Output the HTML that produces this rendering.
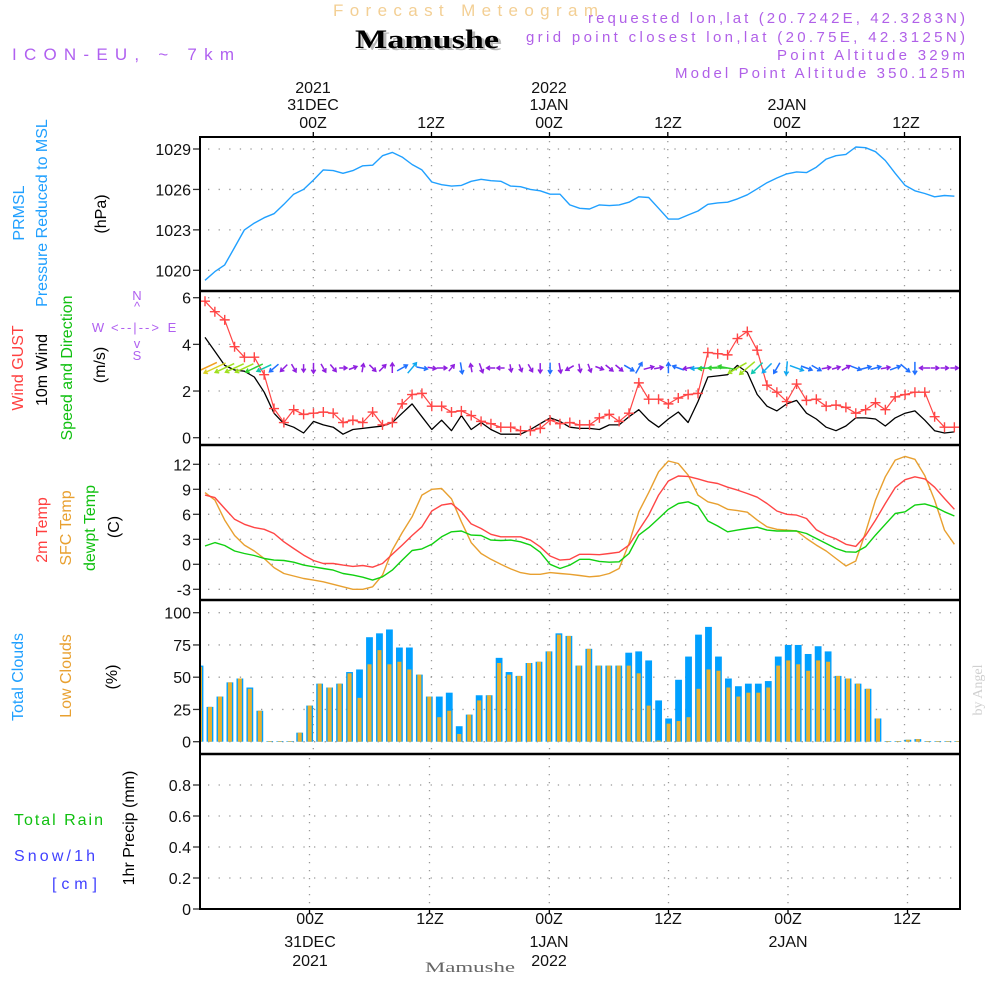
<!DOCTYPE html>
<html><head><meta charset="utf-8"><style>
html,body{margin:0;padding:0;background:#fff;}
svg{display:block;font-family:"Liberation Sans",sans-serif;}
</style></head><body>
<svg id="c" width="1000" height="1000" viewBox="0 0 1000 1000" xmlns="http://www.w3.org/2000/svg">
<rect width="1000" height="1000" fill="#fff"/>
<!-- header -->
<text x="333" y="16" font-size="17" fill="#f3cf94" textLength="265" lengthAdjust="spacing">Forecast Meteogram</text>
<text x="358" y="50" font-size="26" font-weight="bold" font-family="Liberation Serif,serif" fill="#bbb" textLength="144" lengthAdjust="spacingAndGlyphs">Mamushe</text>
<text x="355" y="48" font-size="26" font-weight="bold" font-family="Liberation Serif,serif" fill="#000" textLength="144" lengthAdjust="spacingAndGlyphs">Mamushe</text>
<text x="12" y="60" font-size="17" fill="#b060f0" textLength="222" lengthAdjust="spacing">ICON-EU, ~ 7km</text>
<g font-size="15" fill="#b060e8" text-anchor="end">
<text x="965" y="23" textLength="377" lengthAdjust="spacing">requested lon,lat (20.7242E, 42.3283N)</text>
<text x="965" y="42" textLength="439" lengthAdjust="spacing">grid point closest lon,lat (20.75E, 42.3125N)</text>
<text x="965" y="60" textLength="188" lengthAdjust="spacing">Point Altitude 329m</text>
<text x="965" y="78" textLength="290" lengthAdjust="spacing">Model Point Altitude 350.125m</text>
</g>
<g id="topaxis" font-size="16" fill="#111" text-anchor="middle">
<text x="313" y="93">2021</text><text x="313" y="110">31DEC</text><text x="313" y="128">00Z</text>
<text x="431" y="128">12Z</text>
<text x="549" y="93">2022</text><text x="549" y="110">1JAN</text><text x="549" y="128">00Z</text>
<text x="668" y="128">12Z</text>
<text x="787" y="110">2JAN</text><text x="787" y="128">00Z</text>
<text x="906" y="128">12Z</text>
</g>
<g font-size="16" fill="#111" text-anchor="middle">
<text x="310" y="924">00Z</text><text x="310" y="947">31DEC</text><text x="310" y="966">2021</text>
<text x="430" y="924">12Z</text>
<text x="549" y="924">00Z</text><text x="549" y="947">1JAN</text><text x="549" y="966">2022</text>
<text x="668" y="924">12Z</text>
<text x="788" y="924">00Z</text><text x="788" y="947">2JAN</text>
<text x="907" y="924">12Z</text>
</g>
<text x="425" y="972" font-size="15" font-family="Liberation Serif,serif" fill="#666" textLength="90" lengthAdjust="spacingAndGlyphs">Mamushe</text>
<!-- left labels -->
<g font-size="16" text-anchor="middle">
<text transform="translate(24,213) rotate(-90)" fill="#20a0ff">PRMSL</text>
<text transform="translate(47,213) rotate(-90)" fill="#20a0ff">Pressure  Reduced to MSL</text>
<text transform="translate(106,214) rotate(-90)" fill="#000">(hPa)</text>
<text transform="translate(23,368) rotate(-90)" fill="#ff4040">Wind <tspan>GUST</tspan></text>
<text transform="translate(47,370) rotate(-90)" fill="#000">10m Wind</text>
<text transform="translate(72,368) rotate(-90)" fill="#10c010">Speed and Direction</text>
<text transform="translate(105,365) rotate(-90)" fill="#000">(m/s)</text>
<text transform="translate(47,530) rotate(-90)" fill="#ff4040">2m Temp</text>
<text transform="translate(71,528) rotate(-90)" fill="#e8a030">SFC Temp</text>
<text transform="translate(95,528) rotate(-90)" fill="#10c010">dewpt Temp</text>
<text transform="translate(119,527) rotate(-90)" fill="#000">(C)</text>
<text transform="translate(23,677) rotate(-90)" fill="#20a0ff">Total Clouds</text>
<text transform="translate(71,676) rotate(-90)" fill="#e8a030">Low Clouds</text>
<text transform="translate(117,677) rotate(-90)" fill="#000">(%)</text>
<text transform="translate(134,828) rotate(-90)" fill="#000">1hr Precip (mm)</text>
</g>
<g font-size="16">
<text x="14" y="825" fill="#10c010" textLength="89" lengthAdjust="spacing">Total  Rain</text>
<text x="14" y="861" fill="#4040ff" textLength="81" lengthAdjust="spacing">Snow/1h</text>
<text x="52" y="889" fill="#4040ff" textLength="45" lengthAdjust="spacing">[cm]</text>
</g>
<g font-size="13" fill="#b060f0" text-anchor="middle">
<text x="137" y="300">N</text><text x="137" y="311">^</text>
<text x="98" y="332">W</text><text x="172" y="332">E</text>
<text x="135" y="332" textLength="48" lengthAdjust="spacing">&lt;--|--&gt;</text>
<text x="137" y="348">v</text><text x="137" y="360">S</text>
</g>
<text transform="translate(982,690) rotate(-90)" font-size="14" font-family="Liberation Serif,serif" fill="#d0d0d0" text-anchor="middle">by Angel</text>
<g id="plot"></g>
</svg>
<script>
// ---- data (hourly from 13Z 30 Dec) ----
const pressure=[1019.26,1019.9,1020.4,1021.7,1023.0,1023.5,1023.9,1024.2,1024.9,1025.65,1026.0,1026.7,1027.45,1027.4,1027.2,1027.4,1027.75,1027.8,1028.5,1028.75,1028.4,1027.85,1027.45,1026.55,1026.35,1026.25,1026.3,1026.6,1026.75,1026.65,1026.6,1026.25,1026.2,1026.0,1025.9,1025.65,1025.65,1024.85,1024.6,1024.55,1024.85,1024.8,1024.85,1025.05,1025.45,1025.4,1024.6,1023.8,1023.8,1024.1,1024.4,1024.9,1025.0,1025.05,1025.3,1025.6,1026.05,1026.5,1026.85,1027.15,1027.3,1027.25,1027.65,1028.25,1028.5,1028.6,1029.15,1029.1,1028.8,1028.15,1027.2,1026.3,1025.9,1025.7,1025.45,1025.55,1025.5];
const wind10=[4.3,3.7,3.1,2.9,2.85,2.6,1.95,1.05,0.6,0.45,0.2,0.7,0.55,0.45,0.15,0.35,0.4,0.45,0.5,0.65,1.05,1.45,0.9,0.35,0.75,0.3,0.95,0.35,0.65,0.35,0.15,0.15,0.15,0.35,0.6,0.85,0.7,0.45,0.4,0.4,0.35,0.55,0.55,0.9,1.2,0.75,0.45,0.8,1.1,0.65,1.55,2.6,2.65,2.7,3.1,2.8,1.85,1.35,1.15,1.45,1.6,1.05,0.8,0.45,0.3,0.5,0.85,0.85,0.8,0.5,0.85,1.05,1.15,0.75,0.3,0.2,0.25];
const gust=[5.85,5.4,5.05,3.9,3.45,3.45,2.7,1.25,0.65,1.2,1.0,1.05,1.1,1.05,0.65,0.75,0.65,1.1,0.55,0.65,1.45,1.85,1.9,1.35,1.35,1.1,1.15,0.95,0.7,0.6,0.45,0.45,0.3,0.3,0.4,0.75,0.6,0.65,0.55,0.55,0.85,1.0,0.7,1.05,2.35,1.65,1.65,1.45,1.7,1.85,1.9,3.65,3.6,3.55,4.25,4.55,3.75,2.25,1.95,1.55,2.3,1.6,1.65,1.35,1.4,1.3,1.05,1.2,1.5,1.2,1.75,1.85,1.95,1.95,0.9,0.45,0.45];
const windDir=[155,155,155,155,155,155,155,140,135,60,90,90,60,50,0,-20,-80,45,-45,-90,-30,-50,10,10,0,-50,80,-100,70,180,180,80,70,60,90,90,80,150,80,70,20,40,40,30,-60,-15,-10,-90,200,170,175,175,180,190,150,140,135,135,120,95,20,20,30,-10,-15,-30,20,-15,-15,-10,-20,40,90,180,0,0,0];
const temp2m=[8.3,8.0,6.7,5.4,4.8,4.4,4.2,3.7,2.7,1.9,1.1,0.45,0.1,0.1,-0.1,-0.25,-0.15,-0.35,0.1,1.2,2.3,3.45,4.5,6.4,7.1,7.3,6.3,4.85,4.3,3.6,3.3,3.3,3.3,2.9,2.1,1.0,0.5,0.6,1.2,1.2,1.15,1.3,1.45,2.3,4.1,5.9,8.3,10.0,10.6,10.55,10.25,9.9,9.7,9.25,8.9,8.5,8.05,7.3,6.4,6.0,5.9,5.5,4.15,3.5,3.05,2.4,2.15,3.45,5.3,7.3,9.2,10.15,10.5,10.25,9.25,7.9,6.6];
const tempSfc=[8.6,7.7,5.3,3.45,2.3,1.6,0.7,-0.4,-1.1,-1.4,-1.7,-1.9,-2.1,-2.4,-2.7,-3.0,-3.0,-2.7,-1.3,1.7,3.8,5.7,8.3,9.0,9.1,7.85,5.1,2.6,1.3,0.6,0.0,-0.55,-1.0,-1.2,-1.2,-1.0,-1.1,-1.2,-1.35,-1.5,-1.4,-1.1,-0.5,2.5,6.3,8.6,11.1,12.4,12.1,10.7,8.3,7.5,7.2,6.6,6.45,6.25,5.3,4.5,4.2,4.1,4.0,3.1,2.3,1.6,0.7,-0.2,0.4,3.85,7.7,10.5,12.5,12.95,12.6,10.65,7.7,4.1,2.4];
const dewpt=[2.2,2.6,2.25,1.6,1.3,1.05,0.7,0.5,0.45,0.25,-0.1,-0.3,-0.5,-0.7,-1.1,-1.3,-1.55,-1.9,-1.5,-0.7,0.5,1.65,1.85,2.4,3.3,3.9,4.0,3.5,3.45,2.9,2.85,2.9,2.7,2.3,1.45,0.0,-0.5,-0.1,0.6,0.6,0.35,0.25,0.3,1.3,3.5,4.4,5.5,6.6,7.3,7.5,7.0,5.2,4.6,3.9,4.1,4.3,4.45,4.1,4.0,4.0,4.0,3.7,3.1,2.5,1.9,1.5,1.45,2.1,3.5,4.8,6.1,6.3,7.1,7.25,6.9,6.3,5.8];
const cloudTotal=[59,27,35,46,49,42,24,0.5,0.5,0.5,7,28,45,42,45,54,56,81,84,87,73,73,52,35,35,38,12,21,36,36,65,54,51,61,62,70,84,82,59,72,59,59,59,69,70,63,32,18,48,66,83,89,66,49,43,45,45,47,66,75,75,68,74,70,51,49,45,41,18,0.5,0.5,1.5,2,0.5,0.5,0.5,0.5];
const cloudLow=[58,27,35,46,49,41,24,0.5,0.5,0.5,7,28,45,42,45,53,34,60,71,60,62,56,52,35,19,24,6,21,32,36,61,52,51,61,62,70,83,82,59,72,59,59,59,59,53,28,1,14,16,19,41,56,55,42,35,38,38,42,59,63,60,55,63,62,51,49,45,41,18,0.5,0.5,1.5,2,0.5,0.5,0.5,0.5];
const precip=[0,0,0,0,0,0,0,0,0,0,0,0,0,0,0,0,0,0,0,0,0,0,0,0,0,0,0,0,0,0,0,0,0,0,0,0,0,0,0,0,0,0,0,0,0,0,0,0,0,0,0,0,0,0,0,0,0,0,0,0,0,0,0,0,0,0,0,0,0,0,0,0,0,0,0,0,0];
const pTicks=[1029,1026,1023,1020];
const wTicks=[6,4,2,0];
const tTicks=[12,9,6,3,0,-3];
const cTicks=[100,75,50,25,0];
const rTicks=[0.8,0.6,0.4,0.2,0];
const rTickLabels=["0.8","0.6","0.4","0.2","0"];

const NS="http://www.w3.org/2000/svg";
const plot=document.getElementById('plot');
function el(tag,attrs,parent){const e=document.createElementNS(NS,tag);for(const k in attrs)e.setAttribute(k,attrs[k]);(parent||plot).appendChild(e);return e;}
const L=200,R=960;
const xh=h=>205+9.86*h;          // line series
const xb=i=>200+9.97*i;          // bar series
const gridTop=[313.3,431.5,549.5,667.8,786.3,904.5];
const gridBot=[309.5,429.5,549.3,668.5,788,907.5];
function lin(v0,y0,v1,y1){return v=>y0+(v-v0)*(y1-y0)/(v1-v0);}
const yP=lin(1029,149,1020,270.3);
const yW=lin(6,297.7,0,437.7);
const yT=lin(12,464.3,-3,589.3);
const yC=lin(100,612.7,0,741.7);
const yR=lin(0.8,785,0,909);

const panels=[[137,291,pTicks,yP,gridTop,'pressure'],[291,445,wTicks,yW,gridTop,'wind'],[445,600,tTicks,yT,gridTop,'temp'],[600,754,cTicks,yC,gridTop,'cloud'],[754,909,rTicks,yR,gridBot,'precip']];
panels.forEach(([t,b,ticks,ys,gx,nm])=>{
  const g=el('g',{});
  
  
  gx.forEach(x=>{const l=el('line',{x1:x,x2:x,y1:t+4,y2:b,stroke:'#999','stroke-width':1.3,'stroke-dasharray':'1.3 6.7'},g);
    
    });
  ticks.forEach((v,i)=>{const y=ys(v);
    const l=el('line',{x1:L+8,x2:R,y1:y,y2:y,stroke:'#999','stroke-width':1.3,'stroke-dasharray':'1.3 9.3'},g);
    
    
    el('line',{x1:L-7,x2:L,y1:y,y2:y,stroke:'#333','stroke-width':1.3},g);
    const tx=el('text',{x:L-9,y:y+6,'font-size':16,'text-anchor':'end',fill:'#111'},g);
    
    
    tx.textContent=(nm==='precip')?rTickLabels[i]:String(v);
  });
});
// clip
const defs=el('defs',{});const cp=el('clipPath',{id:'cl'},defs);el('rect',{x:L+1,y:137,width:R-L-2,height:772},cp);
const data=el('g',{'clip-path':'url(#cl)'});


function line(arr,ys,col,name,w){const d=arr.map((v,i)=>(i?'L':'M')+xh(i).toFixed(1)+' '+ys(v).toFixed(1)).join(' ');
  const p=el('path',{d:d,fill:'none',stroke:col,'stroke-width':w||1.4,'stroke-linejoin':'round'},data);
  
  }
// clouds
cloudTotal.forEach((v,i)=>{const r=el('rect',{x:xb(i)-3.4,y:yC(v),width:6.8,height:yC(0)-yC(v),fill:'#00a0ff'},data);
  
  });
cloudLow.forEach((v,i)=>{const r=el('rect',{x:xb(i)-2,y:yC(v),width:4,height:yC(0)-yC(v),fill:'#e8b030'},data);
  
  });
precip.forEach((v,i)=>{if(v>0){const r=el('rect',{x:xb(i)-3,y:yR(v),width:6,height:yR(0)-yR(v),fill:'#10c010'},data);
  
  }});
line(pressure,yP,'#20a0ff','pressure-line');
line(tempSfc,yT,'#e8a030','sfc-temp-line');
line(dewpt,yT,'#10d010','dewpoint-line');
line(temp2m,yT,'#ff4545','temp-2m-line');
line(wind10,yW,'#000','wind-speed-line',1.3);
line(gust,yW,'#ff4545','gust-line',1.2);
gust.forEach((v,i)=>{const x=xh(i),y=yW(v);
  const p=el('path',{d:`M${x-5} ${y}H${x+5}M${x} ${y-5}V${y+5}`,stroke:'#ff4545','stroke-width':1.4},data);
  
  });
function wcol(s){return s>4?'#f0a020':s>3.3?'#d8d020':s>2.75?'#a0e020':s>2.2?'#30d030':s>1.6?'#10c8b0':s>1.2?'#10a8f0':s>0.75?'#2070ff':'#9020e0';}
windDir.forEach((a,i)=>{const s=wind10[i];const len=7+4.5*s;const r=a*Math.PI/180;
  const cx=xh(i),cy=368;const dx=Math.cos(r)*len/2,dy=Math.sin(r)*len/2;
  const x1=cx-dx,y1=cy-dy,x2=cx+dx,y2=cy+dy;
  const h1=r+Math.PI*0.82,h2=r-Math.PI*0.82;
  const d=`M${x1.toFixed(1)} ${y1.toFixed(1)}L${x2.toFixed(1)} ${y2.toFixed(1)}M${(x2+4*Math.cos(h1)).toFixed(1)} ${(y2+4*Math.sin(h1)).toFixed(1)}L${x2.toFixed(1)} ${y2.toFixed(1)}L${(x2+4*Math.cos(h2)).toFixed(1)} ${(y2+4*Math.sin(h2)).toFixed(1)}`;
  const p=el('path',{d:d,fill:'none',stroke:wcol(s),'stroke-width':1.5},data);
  
  });
// frame
const fr=el('g',{});


el('rect',{x:L,y:137,width:R-L,height:772,fill:'none',stroke:'#000','stroke-width':2},fr);
[291,445,600,754].forEach(y=>el('line',{x1:L,x2:R,y1:y,y2:y,stroke:'#000','stroke-width':2.5},fr));
gridTop.forEach(x=>el('line',{x1:x,x2:x,y1:137,y2:132,stroke:'#000','stroke-width':1.3},fr));
gridBot.forEach(x=>el('line',{x1:x,x2:x,y1:909,y2:914,stroke:'#000','stroke-width':1.3},fr));
</script>
</body></html>
